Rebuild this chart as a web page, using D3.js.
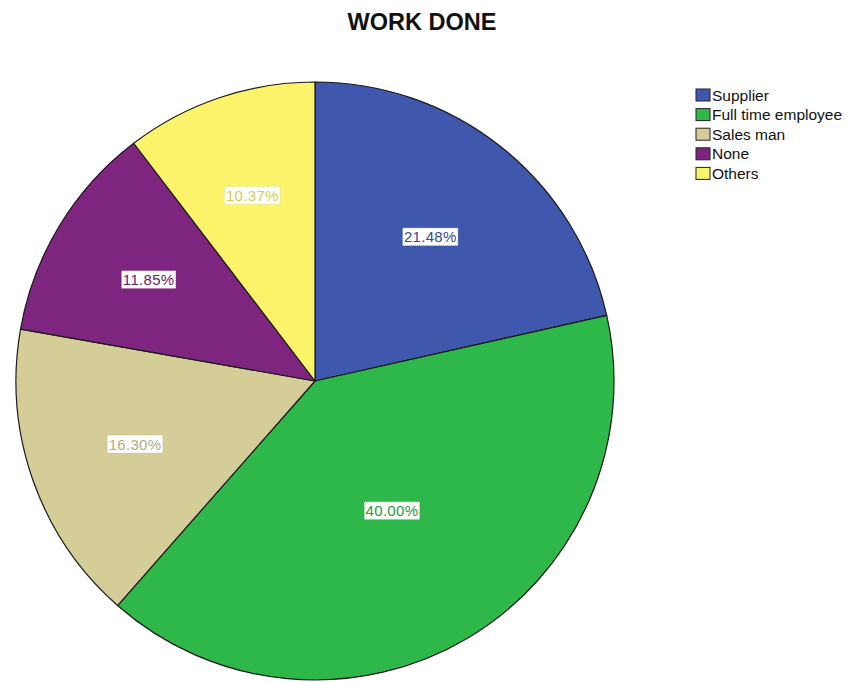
<!DOCTYPE html>
<html>
<head>
<meta charset="utf-8">
<script src="https://cdn.jsdelivr.net/npm/d3@7"></script>
<style>
  html, body { margin: 0; padding: 0; background: #ffffff; }
  svg { display: block; font-family: Arial, "Liberation Sans", sans-serif; }
</style>
</head>
<body>
<svg id="chart" width="846" height="682"></svg>
<script>
// Work done categories and their shares (percent)
const categories = ["Supplier", "Full time employee", "Sales man", "None", "Others"];
const shares = [21.48, 40.00, 16.30, 11.85, 10.37];
const colors = ["#3f58ad", "#2fb84a", "#d5cd98", "#7e267f", "#fbf46a"];
const chartTitle = "WORK DONE";

const svg = d3.select("#chart");
const cx = 315, cy = 381, radius = 299;

svg.append("text")
  .attr("x", 422).attr("y", 30)
  .attr("text-anchor", "middle")
  .attr("font-size", 23.5).attr("font-weight", "bold")
  .attr("fill", "#111")
  .text(chartTitle);

const data = categories.map((c, i) => ({ name: c, value: shares[i], color: colors[i] }));

const pie = d3.pie().value(d => d.value).sort(null)
  .startAngle(0).endAngle(2 * Math.PI);
const arcs = pie(data);
const arc = d3.arc().innerRadius(0).outerRadius(radius);

const g = svg.append("g").attr("transform", `translate(${cx},${cy})`);

g.selectAll("path.slice")
  .data(arcs)
  .join("path")
  .attr("class", "slice")
  .attr("d", arc)
  .attr("fill", d => d.data.color)
  .attr("stroke", "#1a1a1a")
  .attr("stroke-width", 1.2)
  .attr("stroke-linejoin", "round");

// Value labels sit at the centroid of each sector
const fmt = d3.format(".2f");
const labels = g.selectAll("g.lbl")
  .data(arcs)
  .join("g")
  .attr("class", "lbl")
  .attr("transform", d => {
    const half = (d.endAngle - d.startAngle) / 2;
    const mid = (d.startAngle + d.endAngle) / 2;
    const dist = (2 / 3) * radius * Math.sin(half) / half;
    return `translate(${dist * Math.sin(mid)},${-dist * Math.cos(mid)})`;
  });

labels.each(function(d) {
  const sel = d3.select(this);
  const t = sel.append("text")
    .attr("text-anchor", "middle")
    .attr("dy", "0.36em")
    .attr("font-size", 15)
    .attr("letter-spacing", 0.3)
    .attr("fill", d3.color(d.data.color).darker(0.5))
    .text(fmt(d.data.value) + "%");
  const bb = t.node().getBBox();
  sel.insert("rect", "text")
    .attr("x", bb.x - 1.5).attr("y", bb.y - 0.5)
    .attr("width", bb.width + 3).attr("height", bb.height + 1)
    .attr("fill", "#ffffff")
    .attr("stroke", d3.color(d.data.color).darker(0.5))
    .attr("stroke-width", 0.6)
    .attr("stroke-dasharray", "1,1");
});

// Legend
const legend = svg.append("g").attr("transform", "translate(696,89)");
const rowH = 19.6;
const items = legend.selectAll("g.item")
  .data(data)
  .join("g")
  .attr("class", "item")
  .attr("transform", (d, i) => `translate(0,${i * rowH})`);
items.append("rect")
  .attr("x", 0).attr("y", 0)
  .attr("width", 14).attr("height", 12)
  .attr("fill", d => d.color)
  .attr("stroke", "#222").attr("stroke-width", 1);
items.append("text")
  .attr("x", 16).attr("y", 11.5)
  .attr("font-size", 15.5)
  .attr("fill", "#111")
  .text(d => d.name);
</script>
</body>
</html>
